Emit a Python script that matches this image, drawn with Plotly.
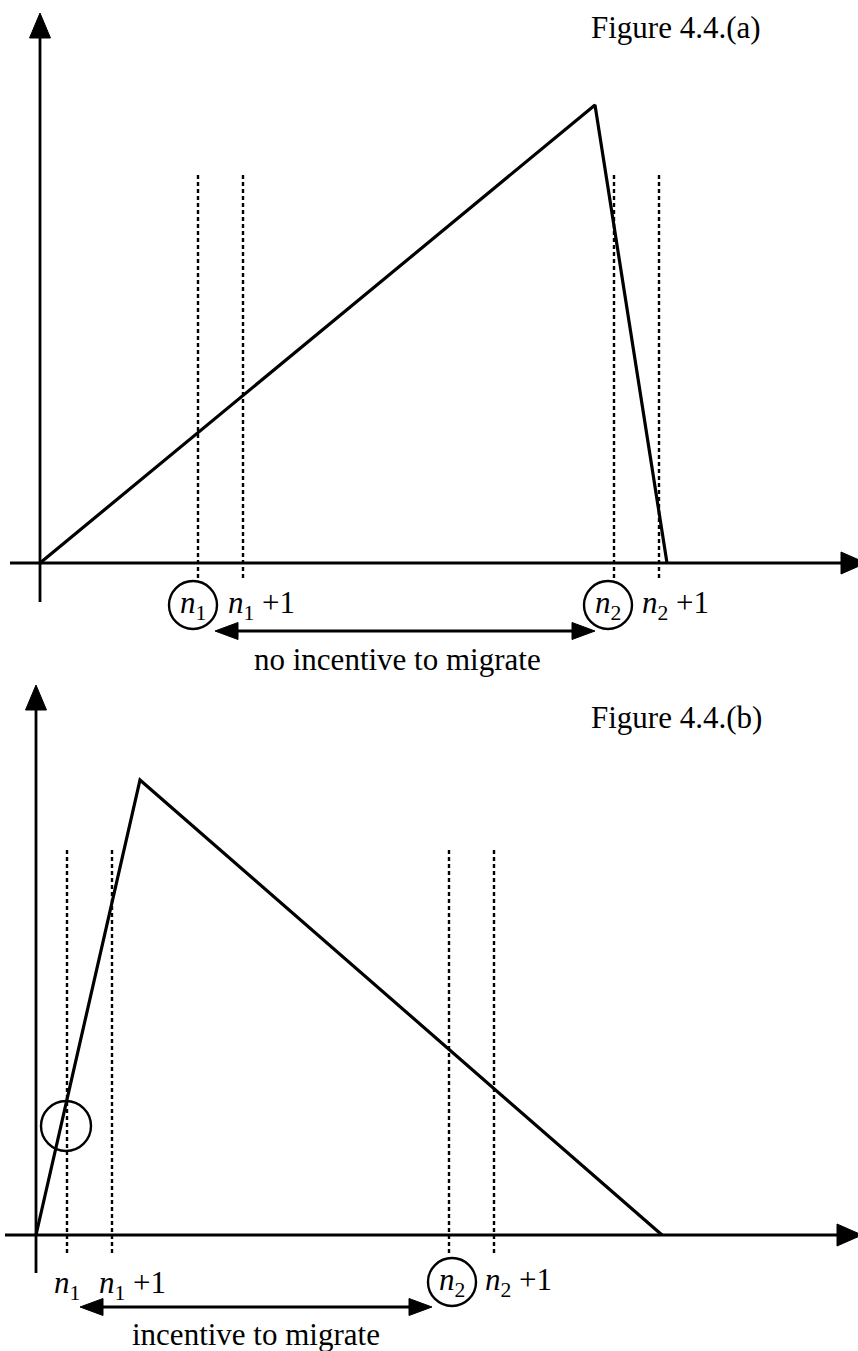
import plotly.graph_objects as go

W, H = 858, 1351

# ---------------- Panel (a) data (diagram units, origin = axes crossing) ----------------
a_curve_x = [0, 555, 627]
a_curve_y = [0, 458, 0]
a_dash_x = [158, 203, 574, 619]
a_dash_top, a_dash_bottom = 388, -15
a_yaxis = (0, -39, 550)          # x, bottom, tip
a_xaxis = (0, -30, 826)          # y, left, tip
a_circles = [(153, -42, 24), (568, -42, 24)]   # cx, cy, r
a_labels = [("<i>n</i><sub>1</sub>", 153, -42), ("<i>n</i><sub>1</sub> +1", 221, -42),
            ("<i>n</i><sub>2</sub>", 568, -42), ("<i>n</i><sub>2</sub> +1", 635, -42)]
a_arrow = (175, 555, -68)        # x_left, x_right, y
a_caption = ("no incentive to migrate", 357, -96)
a_title = ("Figure 4.4.(a)", 636, 536)

# ---------------- Panel (b) data ----------------
b_curve_x = [0, 104, 626]
b_curve_y = [0, 455, 0]
b_dash_x = [31, 76, 413, 458]
b_dash_top, b_dash_bottom = 387, -18
b_yaxis = (0, -38, 550)
b_xaxis = (0, -31, 826)
b_circles = [(30, 109, 25), (416, -47, 24)]
b_labels = [("<i>n</i><sub>1</sub>", 31, -50), ("<i>n</i><sub>1</sub> +1", 96, -50),
            ("<i>n</i><sub>2</sub>", 416, -47), ("<i>n</i><sub>2</sub> +1", 482, -47)]
b_arrow = (44, 396, -72)
b_caption = ("incentive to migrate", 220, -99)
b_title = ("Figure 4.4.(b)", 640, 518)

FONT = "Liberation Serif"
FS = 31
fig = go.Figure()


def line(x, y, xa, ya, width=2.6, dash="solid"):
    fig.add_trace(go.Scatter(x=x, y=y, mode="lines", xaxis=xa, yaxis=ya,
                             line=dict(color="black", width=width, dash=dash),
                             hoverinfo="skip"))


def tri(pts, xa, ya):
    xs = [p[0] for p in pts] + [pts[0][0]]
    ys = [p[1] for p in pts] + [pts[0][1]]
    fig.add_trace(go.Scatter(x=xs, y=ys, mode="lines", fill="toself", fillcolor="black",
                             xaxis=xa, yaxis=ya, line=dict(color="black", width=1),
                             hoverinfo="skip"))


def panel(curve_x, curve_y, dash_x, dtop, dbot, yax, xax, circles, labels,
          arrow, caption, title, xa, ya):
    xr, yr = xa, ya
    # y axis with arrow
    yx, ybot, ytip = yax
    line([yx, yx], [ybot, ytip - 22], xa, ya, width=2.8)
    tri([(yx - 10.5, ytip - 25), (yx + 10.5, ytip - 25), (yx, ytip)], xa, ya)
    # x axis with arrow
    xy, xl, xtip = xax
    line([xl, xtip - 22], [xy, xy], xa, ya, width=2.8)
    tri([(xtip - 25, xy - 11), (xtip - 25, xy + 11), (xtip, xy)], xa, ya)
    # dashed verticals
    for dx in dash_x:
        line([dx, dx], [dbot, dtop], xa, ya, width=2.4, dash="4px,3px")
    # curve
    line(curve_x, curve_y, xa, ya, width=3.2)
    # double arrow
    al, ar, ay = arrow
    line([al + 20, ar - 20], [ay, ay], xa, ya, width=2.8)
    tri([(al + 23, ay - 8.5), (al + 23, ay + 8.5), (al, ay)], xa, ya)
    tri([(ar - 23, ay - 8.5), (ar - 23, ay + 8.5), (ar, ay)], xa, ya)
    # circles
    for cx, cy, r in circles:
        fig.add_shape(type="circle", xref=xr, yref=yr, x0=cx - r, x1=cx + r,
                      y0=cy - r, y1=cy + r, line=dict(color="black", width=2.4))
    # labels
    for txt, lx, ly in labels:
        fig.add_annotation(text=txt, x=lx, y=ly, xref=xr, yref=yr, showarrow=False,
                           xanchor="center", yanchor="middle",
                           font=dict(family=FONT, size=FS, color="black"))
    for txt, lx, ly in (caption, title):
        fig.add_annotation(text=txt, x=lx, y=ly, xref=xr, yref=yr, showarrow=False,
                           xanchor="center", yanchor="middle",
                           font=dict(family=FONT, size=FS, color="black"))


panel(a_curve_x, a_curve_y, a_dash_x, a_dash_top, a_dash_bottom, a_yaxis, a_xaxis,
      a_circles, a_labels, a_arrow, a_caption, a_title, "x", "y")
panel(b_curve_x, b_curve_y, b_dash_x, b_dash_top, b_dash_bottom, b_yaxis, b_xaxis,
      b_circles, b_labels, b_arrow, b_caption, b_title, "x2", "y2")

half = H / 2
fig.update_layout(
    width=W, height=H, margin=dict(l=0, r=0, t=0, b=0),
    paper_bgcolor="white", plot_bgcolor="white", showlegend=False,
    xaxis=dict(domain=[0, 1], range=[-40, W - 40], anchor="y", visible=False, fixedrange=True),
    yaxis=dict(domain=[0.5, 1], range=[563 - half, 563], anchor="x", visible=False, fixedrange=True),
    xaxis2=dict(domain=[0, 1], range=[-36, W - 36], anchor="y2", visible=False, fixedrange=True),
    yaxis2=dict(domain=[0, 0.5], range=[1235 - H, 1235 - half], anchor="x2", visible=False, fixedrange=True),
)

fig.write_html("out.html", config={"displayModeBar": False},
               post_script="document.body.style.margin='0px';document.body.style.overflow='hidden';")
